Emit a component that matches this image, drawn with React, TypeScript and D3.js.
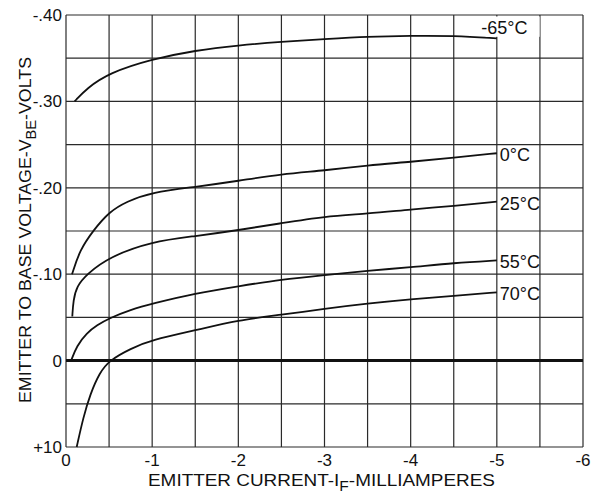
import * as d3 from "d3"
import { useEffect, useRef } from "react"

// emitter current (mA) and emitter-to-base voltage (V), per temperature
const temps = ["-65°C", "0°C", "25°C", "55°C", "70°C"]

const currentM65 = [-0.1, -0.24, -0.5, -1, -1.5, -2, -2.5, -3, -3.5, -4, -4.5, -5]
const voltM65 = [-0.3, -0.315, -0.333, -0.349, -0.359, -0.365, -0.369, -0.372, -0.375, -0.376, -0.376, -0.373]

const current0 = [-0.07, -0.16, -0.32, -0.5, -0.7, -1, -1.5, -2, -2.5, -3, -3.5, -4, -4.5, -5]
const volt0 = [-0.1, -0.128, -0.151, -0.172, -0.184, -0.195, -0.201, -0.208, -0.216, -0.22, -0.226, -0.23, -0.235, -0.24]

const current25 = [-0.073, -0.085, -0.124, -0.24, -0.5, -1, -1.5, -2, -2.5, -3, -3.5, -4, -4.5, -5]
const volt25 = [-0.051, -0.07, -0.086, -0.1, -0.12, -0.138, -0.144, -0.151, -0.159, -0.167, -0.17, -0.175, -0.179, -0.184]

const current55 = [-0.06, -0.124, -0.24, -0.36, -0.5, -0.75, -1, -1.5, -2, -2.5, -3, -3.5, -4, -4.5, -5]
const volt55 = [0, -0.017, -0.032, -0.041, -0.049, -0.059, -0.066, -0.078, -0.086, -0.094, -0.099, -0.104, -0.108, -0.113, -0.116]

const current70 = [-0.124, -0.2, -0.28, -0.39, -0.5, -0.75, -1, -1.5, -2, -2.5, -3, -3.5, -4, -4.5, -5]
const volt70 = [0.1, 0.066, 0.039, 0.014, 0, -0.014, -0.024, -0.035, -0.047, -0.053, -0.06, -0.066, -0.071, -0.075, -0.079]

const xTicks = [0, -1, -2, -3, -4, -5, -6]
const xTickLabels = ["0", "-1", "-2", "-3", "-4", "-5", "-6"]
const yTicks = [-0.4, -0.3, -0.2, -0.1, 0, 0.1]
const yTickLabels = ["-.40", "-.30", "-.20", "-.10", "0", "+10"]

const series = [
  { name: temps[0], x: currentM65, y: voltM65 },
  { name: temps[1], x: current0, y: volt0 },
  { name: temps[2], x: current25, y: volt25 },
  { name: temps[3], x: current55, y: volt55 },
  { name: temps[4], x: current70, y: volt70 },
]

const W = 594
const H = 494
const font = "'Liberation Sans', Arial, sans-serif"

export default function App() {
  const svgRef = useRef<SVGSVGElement>(null)

  useEffect(() => {
    if (!svgRef.current) return
    const svg = d3.select(svgRef.current)
    svg.selectAll("*").remove()

    const left = 66, right = 583, top = 15, bottom = 447

    const x = d3.scaleLinear().domain([0, -6]).range([left, right])
    const y = d3.scaleLinear().domain([0.1, -0.4]).range([bottom, top])

    svg.append("rect").attr("width", W).attr("height", H).attr("fill", "white")

    const grid = svg.append("g").attr("stroke", "#2a2a2a").attr("stroke-width", 1.2)
    d3.range(0, 13).forEach((i) => {
      const v = -i * 0.5
      grid.append("line")
        .attr("x1", x(v)).attr("x2", x(v))
        .attr("y1", top).attr("y2", bottom)
    })
    d3.range(0, 11).forEach((i) => {
      const v = 0.1 - i * 0.05
      grid.append("line")
        .attr("x1", left).attr("x2", right)
        .attr("y1", y(v)).attr("y2", y(v))
    })

    // heavy zero line
    svg.append("line")
      .attr("x1", left).attr("x2", right)
      .attr("y1", y(0)).attr("y2", y(0))
      .attr("stroke", "#111").attr("stroke-width", 3)

    const line = d3.line<[number, number]>()
      .x((d) => x(d[0]))
      .y((d) => y(d[1]))
      .curve(d3.curveBasis)

    series.forEach((s) => {
      const pts = s.x.map((v, i) => [v, s.y[i]] as [number, number])
      svg.append("path")
        .attr("d", line(pts))
        .attr("fill", "none")
        .attr("stroke", "#111")
        .attr("stroke-width", 1.8)

      const last = pts[pts.length - 1]
      if (s.name === "-65°C") {
        const t = svg.append("g")
        t.append("rect")
          .attr("x", x(-4.87)).attr("y", top + 1.5)
          .attr("width", 54).attr("height", y(-0.373) - top - 3)
          .attr("fill", "white")
        t.append("text")
          .attr("x", x(-4.82)).attr("y", top + 19)
          .attr("font-family", font).attr("font-size", 18)
          .attr("fill", "#111")
          .text(s.name)
      } else {
        svg.append("text")
          .attr("x", x(last[0]) + 3).attr("y", y(last[1]) + 8)
          .attr("font-family", font).attr("font-size", 18)
          .attr("fill", "#111")
          .text(s.name)
      }
    })

    // tick labels
    xTicks.forEach((v, i) => {
      svg.append("text")
        .attr("x", x(v)).attr("y", 466)
        .attr("text-anchor", "middle")
        .attr("font-family", font).attr("font-size", 17)
        .attr("fill", "#111")
        .text(xTickLabels[i])
    })
    yTicks.forEach((v, i) => {
      svg.append("text")
        .attr("x", 62).attr("y", y(v) + 6)
        .attr("text-anchor", "end")
        .attr("font-family", font).attr("font-size", 17)
        .attr("fill", "#111")
        .text(yTickLabels[i])
    })

    // axis titles
    const xt = svg.append("text")
      .attr("x", 148).attr("y", 486)
      .attr("font-family", font).attr("font-size", 17)
      .attr("fill", "#111")
    xt.append("tspan").text("EMITTER CURRENT-I")
    xt.append("tspan").attr("dy", 5).attr("font-size", 14).text("F")
    xt.append("tspan").attr("dy", -5).text("-MILLIAMPERES")
    xt.attr("textLength", 347).attr("lengthAdjust", "spacingAndGlyphs")

    const yt = svg.append("text")
      .attr("transform", "translate(31,403) rotate(-90)")
      .attr("font-family", font).attr("font-size", 17)
      .attr("fill", "#111")
    yt.append("tspan").text("EMITTER TO BASE VOLTAGE-V")
    yt.append("tspan").attr("dy", 5).attr("font-size", 14).text("BE")
    yt.append("tspan").attr("dy", -5).text("-VOLTS")
    yt.attr("textLength", 346).attr("lengthAdjust", "spacingAndGlyphs")
  }, [])

  return (
    <svg
      ref={svgRef}
      width={W}
      height={H}
      style={{ position: "absolute", left: 0, top: 0, display: "block" }}
    />
  )
}
